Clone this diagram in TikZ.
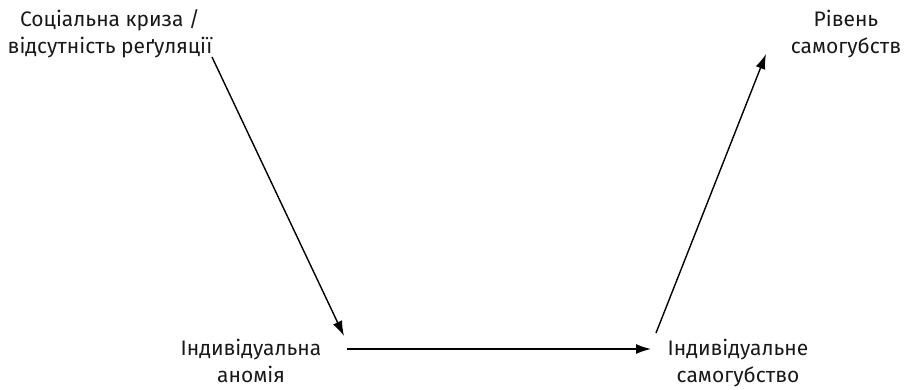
\documentclass[tikz,border=0pt]{standalone}
\usepackage{fontspec}
\setmainfont{Fira Sans}
\usetikzlibrary{arrows.meta}
\begin{document}
\begin{tikzpicture}[x=1pt,y=-1pt,
  lbl/.style={align=center,inner sep=0pt,anchor=base,font=\fontsize{21}{27}\selectfont,text=black!90},
  conn/.style={line width=1.4pt,-{Latex[length=15pt,width=10pt]}}]
\useasboundingbox (0,0) rectangle (906,389);
\node[lbl] (crisis) at (110,53) {Соціальна криза /\\відсутність реґуляції};
\node[lbl] (rate) at (846,53) {Рівень\\самогубств};
\node[lbl] (anomie) at (251,382) {Індивідуальна\\аномія};
\node[lbl] (suicide) at (738,382) {Індивідуальне\\самогубство};
\coordinate (c1) at (212,57);
\coordinate (a1) at (344,336);
\coordinate (a2) at (347,349);
\coordinate (s2) at (651,349);
\coordinate (s1) at (656,333);
\coordinate (r1) at (766,54);
\draw[conn] (c1) -- (a1);
\draw[conn] (a2) -- (s2);
\draw[conn] (s1) -- (r1);
\end{tikzpicture}
\end{document}
